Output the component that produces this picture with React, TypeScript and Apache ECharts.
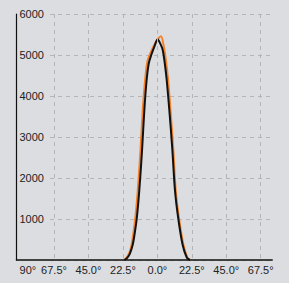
import React, { useEffect, useRef } from "react";
import * as echarts from "echarts";

const xTickValues = [-90, -67.5, -45, -22.5, 0, 22.5, 45, 67.5];
const xTickLabels = ["90°", "67.5°", "45.0°", "22.5°", "0.0°", "22.5°", "45.0°", "67.5°"];
const xGridValues = [-67.5, -45, -22.5, 0, 22.5, 45, 67.5];

const orangeAngles = [-22, -20.5, -18.5, -16.8, -14.5, -12.8, -11, -9.5, -8, -6.5, -4.5, -2, 0.5, 2.4, 4, 5.5, 7, 8.5, 10.4, 12, 14.2, 17, 19.6, 21.5];
const orangeCounts = [0, 40, 160, 380, 1000, 1700, 2700, 3700, 4400, 4850, 5050, 5250, 5400, 5460, 5250, 4900, 4400, 3700, 2700, 1700, 1000, 370, 60, 0];

const blackAngles = [-21.5, -20, -18, -16.1, -15, -13.5, -11.8, -10, -8.5, -7, -5.6, -4, -2, 0.2, 2, 3.5, 5, 6.1, 7.8, 9.8, 11.5, 13.7, 16.5, 19.2, 21.3];
const blackCounts = [0, 40, 150, 370, 600, 1000, 1700, 2680, 3660, 4390, 4800, 5000, 5200, 5383, 5270, 5120, 4750, 4390, 3660, 2680, 1700, 1000, 370, 60, 0];

const FONT = "Liberation Sans, Arial, sans-serif";
const BG = "#dcdde0";
const GRID_COLOR = "#b4b5b8";

export default function App() {
  const ref = useRef<HTMLDivElement>(null);
  useEffect(() => {
    if (!ref.current) return;
    const chart = echarts.init(ref.current, undefined, { renderer: "svg" });
    const pair = (xs: number[], ys: number[]) => xs.map((x, i) => [x, ys[i]]);
    chart.setOption({
      animation: false,
      backgroundColor: BG,
      grid: [
        { left: 16.5, right: 16.8, top: 14, bottom: 23 },
        { left: 50, right: 16.8, top: 14, bottom: 23 },
      ],
      xAxis: [
        {
          type: "value",
          gridIndex: 0,
          min: -92,
          max: 75,
          z: 5,
          axisLine: { show: true, onZero: false, lineStyle: { color: "#111", width: 1.5 } },
          axisTick: { show: false, customValues: xGridValues },
          axisLabel: {
            customValues: xTickValues,
            formatter: (v: number) => {
              const i = xTickValues.indexOf(v);
              return i >= 0 ? xTickLabels[i] : "";
            },
            color: "#222",
            fontFamily: FONT,
            fontSize: 11,
            margin: 4,
            alignMinLabel: "left",
          },
          splitLine: { show: true, lineStyle: { color: GRID_COLOR, type: [4, 4], width: 1 } },
        },
        { type: "value", gridIndex: 1, min: 0, max: 1, show: false },
      ],
      yAxis: [
        {
          type: "value",
          gridIndex: 0,
          min: 0,
          max: 6000,
          interval: 1000,
          z: 5,
          axisLine: { show: true, onZero: false, lineStyle: { color: "#111", width: 1.2 } },
          axisTick: { show: false },
          axisLabel: {
            inside: true,
            margin: 3,
            showMinLabel: false,
            color: "#222",
            fontFamily: FONT,
            fontSize: 11,
            formatter: (v: number) => String(v),
          },
          splitLine: { show: false },
        },
        {
          type: "value",
          gridIndex: 1,
          min: 0,
          max: 6000,
          interval: 1000,
          axisLine: { show: false },
          axisTick: { show: false },
          axisLabel: { show: false },
          splitLine: { show: true, lineStyle: { color: GRID_COLOR, type: [4, 4], width: 1 } },
        },
      ],
      series: [
        {
          type: "line",
          xAxisIndex: 0,
          yAxisIndex: 0,
          data: pair(orangeAngles, orangeCounts),
          showSymbol: false,
          smooth: 0.3,
          lineStyle: { color: "#f5822a", width: 2 },
          z: 3,
        },
        {
          type: "line",
          xAxisIndex: 0,
          yAxisIndex: 0,
          data: pair(blackAngles, blackCounts),
          showSymbol: false,
          smooth: 0.3,
          lineStyle: { color: "#111", width: 2 },
          z: 4,
        },
      ],
    });
    return () => chart.dispose();
  }, []);
  return (
    <div
      ref={ref}
      style={{ position: "absolute", left: 0, top: 0, width: 289, height: 283, background: BG }}
    />
  );
}
